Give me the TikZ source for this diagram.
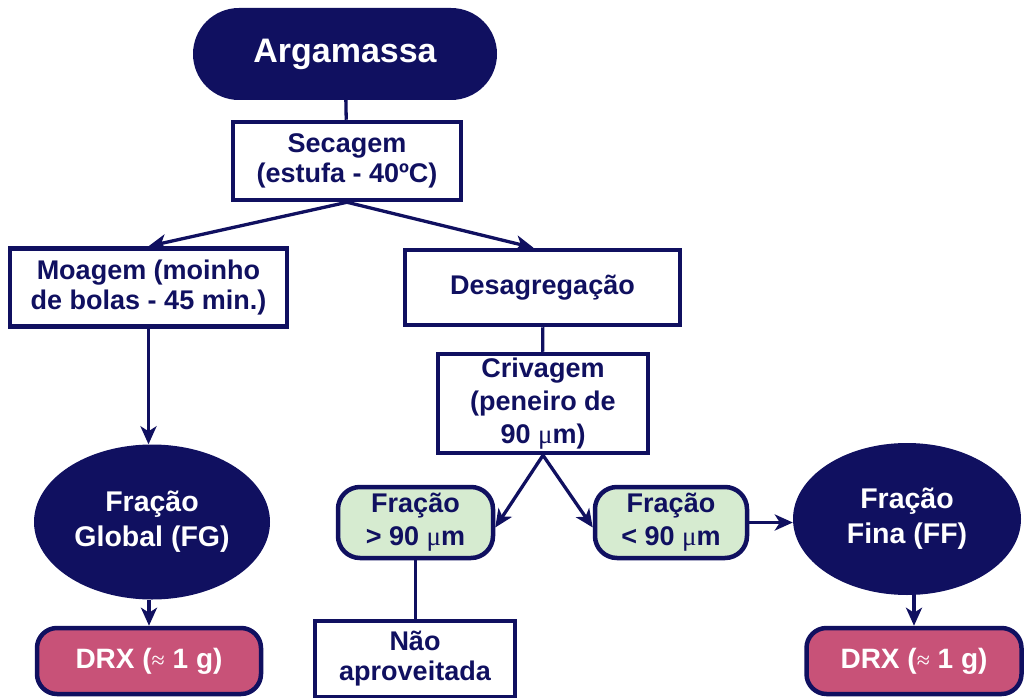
\documentclass[tikz,border=0pt]{standalone}
\usepackage{fontspec}
\setmainfont{Liberation Sans}
\newfontfamily\symfont{Liberation Serif}
\usetikzlibrary{arrows.meta,shapes.geometric}
\definecolor{navy}{RGB}{16,16,96}
\definecolor{leaf}{RGB}{214,235,208}
\definecolor{rose}{RGB}{200,82,120}
\newcommand{\mumicro}{{\symfont\mdseries μ}m}
\newcommand{\approxsym}{{\symfont\mdseries\fontsize{24}{24}\selectfont ≈}}
\begin{document}
\begin{tikzpicture}[x=1pt,y=-1pt,
  base/.style={font=\bfseries\fontsize{27}{30}\selectfont, align=center, inner sep=0pt},
  stepbox/.style={base, draw=navy, line width=4.5pt, fill=white, text=navy},
  fracbox/.style={base, draw=navy, line width=4.5pt, fill=leaf, text=navy, rounded corners=22pt,
                  font=\bfseries\fontsize{27}{33}\selectfont},
  drxbox/.style={base, draw=navy, line width=4.5pt, fill=rose, text=white, rounded corners=20pt,
                 font=\bfseries\fontsize{28}{32}\selectfont},
  darkoval/.style={base, ellipse, fill=navy, text=white, font=\bfseries\fontsize{28.5}{35}\selectfont},
  conn/.style={draw=navy, line width=3.3pt},
  arr/.style={conn, -{Stealth[length=18pt,width=16pt,inset=5pt]}}]
\useasboundingbox (0,0) rectangle (1025,698);

% start of the process
\node[base, fill=navy, text=white, rounded corners=46pt, minimum width=304pt, minimum height=92pt,
      font=\bfseries\fontsize{34}{38}\selectfont] (arg) at (345,54) {Argamassa};

% preparation steps
\node[stepbox, minimum width=228pt, minimum height=78pt] (sec) at (347,161) {Secagem\\(estufa - 40ºC)};
\node[stepbox, minimum width=277pt, minimum height=78pt] (moa) at (148.5,287.5) {Moagem (moinho\\de bolas - 45 min.)};
\node[stepbox, minimum width=275pt, minimum height=75pt] (des) at (542.5,287.5) {Desagregação};
\node[stepbox, minimum width=210pt, minimum height=99pt, font=\bfseries\fontsize{27}{33}\selectfont]
      (criv) at (543,403.5) {Crivagem\\(peneiro de\\90 \mumicro)};

% sieve fractions
\node[fracbox, minimum width=155pt, minimum height=71pt] (f1) at (415.5,522.5) {Fração\\> 90 \mumicro};
\node[fracbox, minimum width=152pt, minimum height=71pt] (f2) at (671,522.5) {Fração\\< 90 \mumicro};
\node[stepbox, minimum width=200pt, minimum height=76pt] (nao) at (415,659) {Não\\aproveitada};

% analysed fractions
\node[darkoval, minimum width=236pt, minimum height=155pt] (fg) at (152,522) {Fração\\Global (FG)};
\node[darkoval, minimum width=228pt, minimum height=152pt] (ff) at (907,519) {Fração\\Fina (FF)};

% X-ray diffraction samples
\node[drxbox, minimum width=224pt, minimum height=66pt] (drx1) at (149,661) {DRX (\approxsym\ 1 g)};
\node[drxbox, minimum width=215pt, minimum height=66pt] (drx2) at (914,661) {DRX (\approxsym\ 1 g)};

% connectors
\draw[conn] (arg) -- (sec);
\draw[arr] (sec.south) -- (moa.north);
\draw[arr] (sec.south) -- ([xshift=-9pt]des.north);
\draw[conn] (des) -- (criv);
\draw[arr] (criv.south) -- ([yshift=-5pt]f1.east);
\draw[arr] (criv.south) -- ([yshift=-5pt]f2.west);
\draw[arr] (moa.south) -- (moa.south |- fg.north);
\draw[arr] (f2.east) -- (f2.east -| ff.west);
\draw[conn] (f1.south) -- (f1.south |- nao.north);
\draw[arr] (fg.south -| drx1.north) -- (drx1.north);
\draw[arr] (ff.south -| drx2.north) -- (drx2.north);
\end{tikzpicture}
\end{document}
